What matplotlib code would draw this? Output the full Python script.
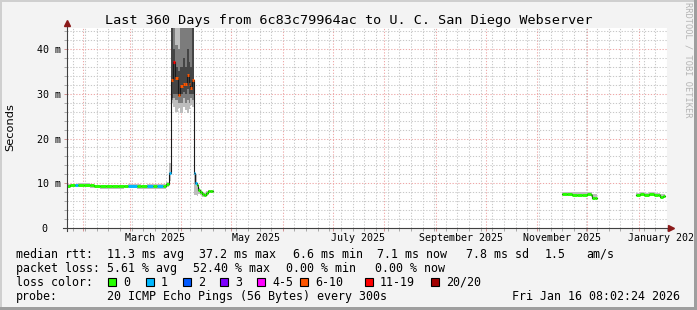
import numpy as np
import matplotlib
matplotlib.use('Agg')
import matplotlib.pyplot as plt
from matplotlib.patches import Rectangle
from matplotlib.transforms import blended_transform_factory

W, H = 697, 310
MONO = 'DejaVu Sans Mono'

# ---- time axis: days since left edge of the graph ----
START = np.datetime64('2025-01-22T05:00')
SPAN_DAYS = 360
Y_MAX = 44.7   # ms

LOSS_COLORS = ['#26ff00', '#00b8ff', '#0059ff', '#7e00ff',
               '#ff00ff', '#ff5500', '#ff0000', '#a10000']
LOSS_LABELS = ['0', '1', '2', '3', '4-5', '6-10', '11-19', '20/20']

# before the spike (Jan - Mar 2025)
pre_days = [0, 1.8, 4.8, 6.6, 10.2, 13.8, 16.2, 19.8, 23.4, 27.0, 30.6,
            34.2, 36.6, 42.0, 44.4, 48.0, 51.6, 54.0, 57.6, 59.8, 61.4]
pre_med = [9.4, 9.6, 9.6, 9.7, 9.7, 9.6, 9.4, 9.4, 9.4, 9.35, 9.4,
           9.4, 9.45, 9.45, 9.4, 9.45, 9.45, 9.45, 9.45, 9.9, 12.4]
pre_loss = [0, 0, 1, 0, 0, 0, 0, 0, 0, 0, 0,
            0, 1, 0, 0, 1, 0, 1, 0, 0, 1]
pre_lo = [9.0, 9.1, 9.1, 9.2, 9.2, 9.0, 8.9, 8.8, 8.8, 8.8, 8.8,
          8.9, 8.9, 8.8, 8.7, 8.8, 8.8, 8.7, 8.8, 9.2, 10.5]
pre_hi = [9.8, 9.9, 9.9, 10.0, 10.0, 9.9, 9.7, 9.7, 9.7, 9.6, 9.7,
          9.7, 9.8, 9.8, 9.7, 9.8, 9.8, 9.8, 9.8, 10.3, 14.5]

# the spike (late March 2025)
spike_days = [62.4, 63.8, 65.2, 66.8, 68.2, 69.6, 71.2, 72.2, 73.2, 74.2, 75.2]
spike_med = [33.0, 37.1, 33.6, 29.7, 31.7, 32.2, 32.2, 34.2, 32.2, 31.4, 33.0]
spike_loss = [5, 6, 5, 5, 5, 5, 5, 5, 5, 5, 5]
spike_lo = [27.9, 27.1, 26.0, 26.9, 25.7, 27.1, 26.3, 25.7, 26.5, 27.5, 27.0]
spike_hi = [60, 60, 60, 60, 60, 60, 60, 60, 60, 60, 60]
spike_mid_lo = [28.5, 29.0, 28.5, 28.0, 28.0, 29.0, 28.0, 28.5, 28.0, 29.0, 28.5]
spike_mid_hi = [60, 60, 41, 40, 48, 60, 60, 60, 60, 60, 60]
spike_core_lo = [29.0, 30.0, 30.0, 29.5, 30.0, 30.5, 30.0, 31.0, 30.0, 30.0, 30.0]
spike_core_hi = [60, 40, 36, 35, 36, 38, 36, 40, 37, 36, 60]

# after the spike (April 2025)
post_days = [76.2, 77.1, 78.0, 78.9, 80.1, 81.3, 82.5, 83.7, 84.6, 85.8, 87.0]
post_end = 87.9
post_med = [12.2, 10.0, 9.5, 8.5, 8.1, 7.6, 7.3, 7.8, 8.3, 8.3, 8.3]
post_loss = [1, 1, 0, 0, 0, 0, 0, 0, 0, 0, 0]
post_lo = [7.4, 7.4, 7.2, 7.6, 7.4, 7.0, 6.9, 7.2, 7.8, 7.9, 7.9]
post_hi = [12.4, 12.0, 10.0, 9.0, 8.6, 8.0, 7.8, 8.3, 8.6, 8.6, 8.6]

# November / December 2025
nov_days = [297.8, 300.6, 303.6, 306.6, 309.6, 312.6, 315.3, 315.9, 317.4]
nov_end = 318.8
nov_med = [7.5, 7.5, 7.4, 7.3, 7.45, 7.55, 7.4, 6.8, 6.7]
nov_loss = [0, 0, 0, 0, 0, 0, 0, 0, 0]
nov_lo = [7.3, 7.2, 7.2, 7.1, 7.2, 7.3, 7.2, 6.6, 6.5]
nov_hi = [8.0, 8.1, 8.1, 8.0, 8.0, 8.1, 8.0, 7.6, 7.5]

# January 2026
jan_days = [342.2, 344.4, 346.8, 349.8, 352.8, 355.2, 356.4, 358.2]
jan_end = 359.4
jan_med = [7.45, 7.55, 7.4, 7.5, 7.45, 7.3, 7.0, 7.25]
jan_loss = [0, 0, 0, 0, 0, 0, 0, 0]
jan_lo = [7.2, 7.3, 7.2, 7.3, 7.2, 7.1, 6.8, 7.0]
jan_hi = [7.9, 8.0, 7.9, 8.0, 7.9, 7.8, 7.5, 7.6]

Y_TICKS = [0, 10, 20, 30, 40]
Y_LABELS = ['0', '10 m', '20 m', '30 m', '40 m']
X_LABEL_MONTHS = ['2025-03', '2025-05', '2025-07', '2025-09', '2025-11', '2026-01']
X_LABELS = ['March 2025', 'May 2025', 'July 2025', 'September 2025',
            'November 2025', 'January 2026']

TITLE = 'Last 360 Days from 6c83c79964ac to U. C. San Diego Webserver'
ROW1 = [(16, 'median rtt:'), (107.3, '11.3 ms avg'), (199.3, '37.2 ms max'),
        (293, '6.6 ms min'), (377, '7.1 ms now'), (466, '7.8 ms sd'),
        (544.3, '1.5'), (586, 'am/s')]
ROW2 = [(16, 'packet loss:'), (107.3, '5.61 % avg'), (193.3, '52.40 % max'),
        (286, '0.00 % min'), (375, '0.00 % now')]
BOX_X = [108.3, 145.7, 183, 220, 257.3, 300, 365, 430.7]


def days_since_start(dates):
    d = np.asarray(dates, dtype='datetime64[m]')
    return (d - START) / np.timedelta64(1, 'D')


def fx(x):
    return x / W


def fy(y):
    return 1 - y / H


SMOKE = '#bdbdbd'


def draw_series(ax, days, end, med, loss, lo, hi):
    edges = np.append(days, end)
    ax.fill_between(edges, np.append(lo, lo[-1]), np.append(hi, hi[-1]),
                    step='post', color=SMOKE, lw=0, zorder=2)
    ax.step(edges, np.append(med, med[-1]), where='post',
            color='#1a1a1a', lw=0.8, zorder=4)
    ax.hlines(med, edges[:-1], edges[1:],
              colors=[LOSS_COLORS[k] for k in loss], lw=2.1,
              zorder=5, capstyle='butt')


fig = plt.figure(figsize=(W / 100, H / 100), dpi=100, facecolor='#f3f3f3')
ax = fig.add_axes([fx(67), fy(228), 600 / W, 200 / H], facecolor='white')
ax.set_xlim(0, SPAN_DAYS)
ax.set_ylim(0, Y_MAX)
for s in ax.spines.values():
    s.set_visible(False)

# grid
month_starts = np.arange(np.datetime64('2025-02'), np.datetime64('2026-02'),
                         np.timedelta64(1, 'M'))
week_starts = np.arange(np.datetime64('2025-01-26'), np.datetime64('2026-01-20'),
                        np.timedelta64(7, 'D'))
ax.set_xticks(days_since_start(month_starts))
ax.set_xticks(days_since_start(week_starts), minor=True)
ax.set_yticks(Y_TICKS)
ax.set_yticks(np.arange(0, Y_MAX, 2), minor=True)
ax.grid(which='major', color='#eea8a8', linestyle=(0, (1.2, 1.6)), lw=0.75)
ax.grid(which='minor', color='#c8c8c8', linestyle=(0, (1.2, 1.6)), lw=0.75)
ax.set_axisbelow(True)
ax.tick_params(which='major', length=2.5, width=0.7, color='#d09090',
               labelbottom=False, labelleft=False)
ax.tick_params(which='minor', length=2, width=0.7, color='#a8a8a8')

# smoke + median lines
s1_days = pre_days + spike_days + post_days
s1_med = pre_med + spike_med + post_med
s1_loss = pre_loss + spike_loss + post_loss
s1_lo = pre_lo + spike_lo + post_lo
s1_hi = pre_hi + spike_hi + post_hi

sp_edges = np.append(spike_days, post_days[0])
ax.fill_between(sp_edges, np.append(spike_mid_lo, spike_mid_lo[-1]),
                np.append(spike_mid_hi, spike_mid_hi[-1]),
                step='post', color='#7c7c7c', lw=0, zorder=2.5)
ax.fill_between(sp_edges, np.append(spike_core_lo, spike_core_lo[-1]),
                np.append(spike_core_hi, spike_core_hi[-1]),
                step='post', color='#454545', lw=0, zorder=2.6)

draw_series(ax, s1_days, post_end, s1_med, s1_loss, s1_lo, s1_hi)
draw_series(ax, nov_days, nov_end, nov_med, nov_loss, nov_lo, nov_hi)
draw_series(ax, jan_days, jan_end, jan_med, jan_loss, jan_lo, jan_hi)

# axes with arrows
ax.plot([-4 / 600, 1 + 3 / 600], [0, 0], transform=ax.transAxes,
        clip_on=False, color='#404040', lw=0.8, zorder=6)
ax.plot([0, 0], [-3 / 200, 1 + 3 / 200], transform=ax.transAxes,
        clip_on=False, color='#404040', lw=0.8, zorder=6)
ax.plot(0, 1 + 4.7 / 200, marker='^', ms=4, color='#8b1a1a',
        transform=ax.transAxes, clip_on=False, zorder=7)
ax.plot(1 + 4 / 600, 0, marker='>', ms=4, color='#8b1a1a',
        transform=ax.transAxes, clip_on=False, zorder=7)

# axis labels
ytrans = blended_transform_factory(fig.transFigure, ax.transData)
for v, lab in zip(Y_TICKS, Y_LABELS):
    xr = 47.5 if lab == '0' else 60.5
    ax.text(fx(xr), v, lab, transform=ytrans, ha='right', va='center_baseline',
            fontsize=7.2, family=MONO)

xtrans = blended_transform_factory(ax.transData, fig.transFigure)
label_pos = days_since_start(np.array(X_LABEL_MONTHS, dtype='datetime64[M]')) + 15
for d, lab in zip(label_pos, X_LABELS):
    ax.text(d, fy(241), lab, transform=xtrans, ha='center', va='baseline',
            fontsize=7.2, family=MONO, clip_on=False)

fig.text(fx(10.5), fy(127.5), 'Seconds', rotation=90, ha='center',
         va='center', fontsize=8.2)
fig.text(fx(348.5), fy(24), TITLE, ha='center', va='baseline',
         fontsize=9.7, family=MONO)
fig.text(fx(688), fy(60), 'RRDTOOL / TOBI OETIKER', rotation=270,
         ha='center', va='center', fontsize=6.2, color='#b4b4b4', family=MONO)

# legend
for x, t in ROW1:
    fig.text(fx(x), fy(257.7), t, ha='left', va='baseline', fontsize=8.37, family=MONO)
for x, t in ROW2:
    fig.text(fx(x), fy(271.8), t, ha='left', va='baseline', fontsize=8.37, family=MONO)
fig.text(fx(16), fy(285.8), 'loss color:', ha='left', va='baseline',
         fontsize=8.37, family=MONO)
for bx, col, lab in zip(BOX_X, LOSS_COLORS, LOSS_LABELS):
    fig.add_artist(Rectangle((fx(bx), fy(286)), 8 / W, 8.5 / H,
                             transform=fig.transFigure, fc=col, ec='black', lw=0.8))
    fig.text(fx(bx + 15), fy(285.8), lab, ha='left', va='baseline',
             fontsize=8.37, family=MONO)
fig.text(fx(16), fy(300), 'probe:', ha='left', va='baseline', fontsize=8.37, family=MONO)
fig.text(fx(107.3), fy(300), '20 ICMP Echo Pings (56 Bytes) every 300s',
         ha='left', va='baseline', fontsize=8.37, family=MONO)
fig.text(fx(680), fy(300), 'Fri Jan 16 08:02:24 2026', ha='right',
         va='baseline', fontsize=8.37, family=MONO)

# 3d-ish frame
fig.add_artist(Rectangle((0, 0), 2 / W, 1, transform=fig.transFigure,
                         fc='#cfcfcf', ec='none'))
fig.add_artist(Rectangle((0, 1 - 2 / H), 1, 2 / H, transform=fig.transFigure,
                         fc='#cfcfcf', ec='none'))
fig.add_artist(Rectangle((1 - 3 / W, 0), 3 / W, 1, transform=fig.transFigure,
                         fc='#9e9e9e', ec='none'))
fig.add_artist(Rectangle((0, 0), 1, 3 / H, transform=fig.transFigure,
                         fc='#9e9e9e', ec='none'))

fig.savefig('out.png', dpi=100, facecolor=fig.get_facecolor())
